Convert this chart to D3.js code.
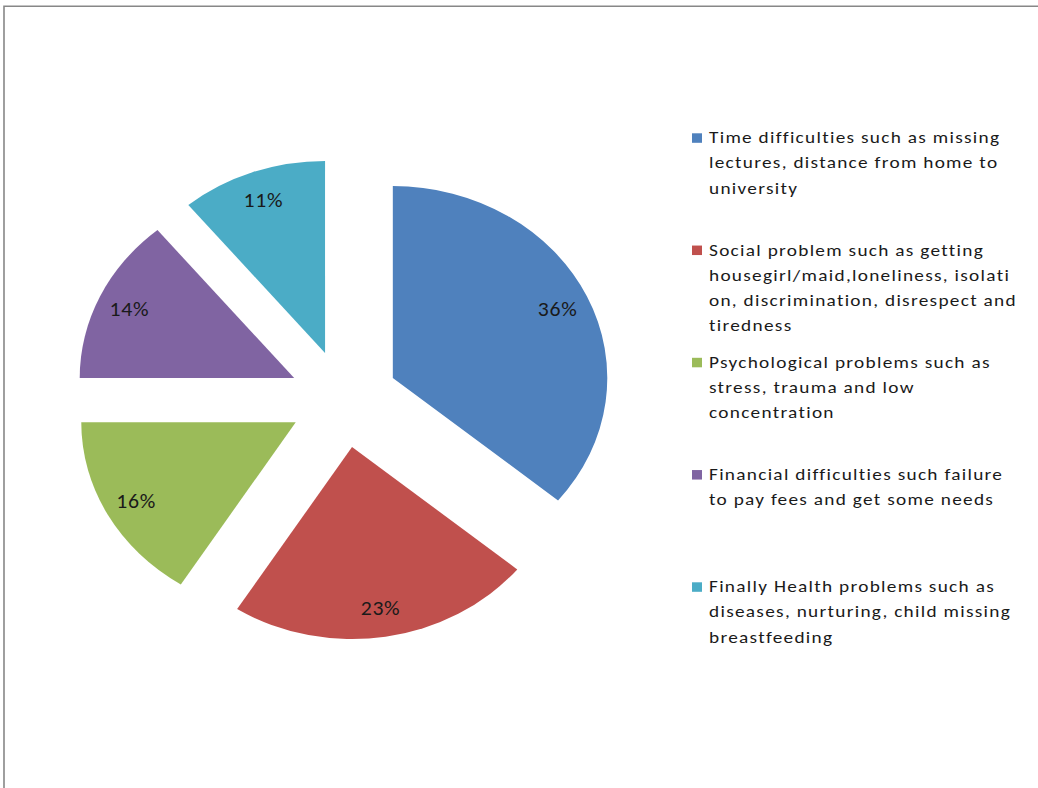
<!DOCTYPE html>
<html>
<head>
<meta charset="utf-8">
<script src="https://cdn.jsdelivr.net/npm/d3@7"></script>
<style>
  html, body { margin: 0; padding: 0; background: #ffffff; }
  svg { display: block; }
  text { font-variant-ligatures: none; }
</style>
</head>
<body>
<svg id="chart" width="1038" height="788"></svg>
<script>
// Problems reported, share of responses (%)
const categories = [
  "Time difficulties such as missing lectures, distance from home to university",
  "Social problem such as getting housegirl/maid,loneliness, isolation, discrimination, disrespect and tiredness",
  "Psychological problems such as stress, trauma and low concentration",
  "Financial difficulties such failure to pay fees and get some needs",
  "Finally Health problems such as diseases, nurturing, child missing breastfeeding"
];
const values = [36, 23, 16, 14, 11];
const sliceLabels = ["36%", "23%", "16%", "14%", "11%"];
const legendLines = [
  ["Time difficulties such as missing", "lectures, distance from home to", "university"],
  ["Social problem such as getting", "housegirl/maid,loneliness, isolati", "on, discrimination, disrespect and", "tiredness"],
  ["Psychological problems such as", "stress, trauma and low", "concentration"],
  ["Financial difficulties such failure", "to pay fees and get some needs"],
  ["Finally Health problems such as", "diseases, nurturing, child missing", "breastfeeding"]
];
const colors = ["#4F81BD", "#C0504D", "#9BBB59", "#8064A2", "#4BACC6"];

const svg = d3.select("#chart");
const FONT = "Carlito, Lato, 'Open Sans', sans-serif";

// chart area frame (only top and left edges fall inside the view)
svg.append("path")
  .attr("d", "M4,792 L4,6.2 L1042,6.2")
  .attr("fill", "none")
  .attr("stroke", "#878787")
  .attr("stroke-width", 1.6);

// pie geometry
const cx = 343.5, cy = 398.8;
const radius = 192;
const stretch = 1.117;     // horizontal stretch of the plot
const explode = 48.8;      // distance each slice is pulled out
const labelR = 163;

const pie = d3.pie().sort(null).value(d => d);
const arcs = pie(values);
const arc = d3.arc().innerRadius(0).outerRadius(radius);

const slices = svg.append("g").selectAll("g.slice")
  .data(arcs)
  .join("g")
  .attr("class", "slice")
  .each(function(d) {
    const mid = (d.startAngle + d.endAngle) / 2;
    d.ox = cx + Math.sin(mid) * explode * stretch;
    d.oy = cy - Math.cos(mid) * explode;
    d.mid = mid;
  });

slices.append("path")
  .attr("transform", d => `translate(${d.ox},${d.oy}) scale(${stretch},1)`)
  .attr("d", arc)
  .attr("fill", (d, i) => colors[i]);

slices.append("text")
  .attr("transform", d => {
    const x = d.ox + Math.sin(d.mid) * labelR * stretch;
    const y = d.oy - Math.cos(d.mid) * labelR;
    return `translate(${x},${y}) scale(${stretch},1)`;
  })
  .attr("text-anchor", "middle")
  .attr("dy", "0.36em")
  .attr("font-family", FONT)
  .attr("font-size", 19.5)
  .attr("letter-spacing", 0.6)
  .attr("fill", "#1a1a1a")
  .text((d, i) => sliceLabels[i]);

// legend
const legendX = 692;
const firstBaseline = 143.3;
const entryStep = 112.25;
const lineStep = 25.2;
const legendStretch = 1.17;

const legend = svg.append("g").selectAll("g.entry")
  .data(categories)
  .join("g")
  .attr("class", "entry")
  .attr("transform", (d, i) => `translate(${legendX},${firstBaseline + i * entryStep})`);

legend.append("rect")
  .attr("x", 0)
  .attr("y", -10)
  .attr("width", 10)
  .attr("height", 9.5)
  .attr("fill", (d, i) => colors[i]);

legend.append("text")
  .attr("transform", `translate(17,0) scale(${legendStretch},1)`)
  .attr("font-family", FONT)
  .attr("font-size", 16.5)
  .attr("letter-spacing", 1.1)
  .attr("fill", "#1a1a1a")
  .selectAll("tspan")
  .data((d, i) => legendLines[i])
  .join("tspan")
  .attr("x", 0)
  .attr("y", (d, j) => j * lineStep)
  .text(d => d);
</script>
</body>
</html>
